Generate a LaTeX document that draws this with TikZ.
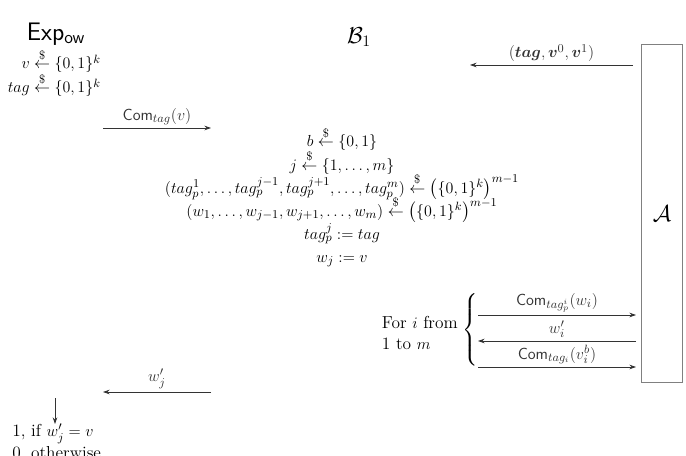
\documentclass[tikz,border=0pt]{standalone}
\usepackage{amsmath,amssymb}
\usepackage{tikz}
\usetikzlibrary{arrows.meta, positioning}

\begin{document}
\begin{tikzpicture}[
    x=0.75pt, y=-0.75pt,
    font=\fontsize{13}{16}\selectfont,
    node distance = 17.3pt and 4pt,
    txt/.style    = {inner sep=0pt},
    row/.style    = {inner sep=0pt, anchor=base},
    lbl/.style    = {above, inner sep=2pt},
    advbox/.style = {
        rectangle, draw=gray, line width=0.9pt,
        minimum width=31pt, minimum height=254pt,
        inner sep=0pt
    },
    arr/.style    = {-{Stealth[length=5pt, width=3.5pt]}, line width=0.6pt, black!80}
]
\useasboundingbox (0,0) rectangle (686,456);

%% Headers
\node[txt, font=\fontsize{19}{22}\selectfont] (exp) at (56,34) {\textsf{Exp}$_{\textsf{ow}}$};
\node[txt, font=\LARGE] (bone) at (359,37) {$\mathcal{B}_1$};

%% Adversary
\node[advbox] (adv) at (662,213.5) {\LARGE$\mathcal{A}$};

%% Challenger sampling
\node[row, anchor=base east] (sv)   at (101,69) {$v \stackrel{\$}{\leftarrow} \{0,1\}^k$};
\node[row, anchor=base east] (stag) at (101,93) {$tag \stackrel{\$}{\leftarrow} \{0,1\}^k$};

%% Reduction rows
\node[row] (rb) at (342,147) {$b \stackrel{\$}{\leftarrow} \{0,1\}$};
\node[below=of rb.base, row]  (rj)   {$j \stackrel{\$}{\leftarrow} \{1,\ldots,m\}$};
\node[below=of rj.base, row]  (rtag) {$(tag_p^1,\ldots,tag_p^{j-1},tag_p^{j+1},\ldots,tag_p^m) \stackrel{\$}{\leftarrow} \big(\{0,1\}^k\big)^{m-1}$};
\node[below=of rtag.base, row] (rw)  {$(w_1,\ldots,w_{j-1},w_{j+1},\ldots,w_m) \stackrel{\$}{\leftarrow} \big(\{0,1\}^k\big)^{m-1}$};
\node[below=of rw.base, row]  (rtj)  {$tag_p^j := tag$};
\node[below=of rtj.base, row] (rwj)  {$w_j := v$};

%% Loop
\node[align=left, anchor=east, inner sep=0pt] (fori) at (458,333) {For $i$ from\\1 to $m$};
\node[inner sep=0pt] (brc) at (471,330) {$\left\{\vcenter{\hrule height 58pt width 0pt}\right.$};

%% Arrow end points
\coordinate (la0) at (470,65);  \coordinate (ra0) at (633,65);
\coordinate (lc)  at (103,128); \coordinate (rc)  at (211,128);
\coordinate (la1) at (478,315); \coordinate (ra1) at (636,315);
\coordinate (la2) at (478,341); \coordinate (ra2) at (636,341);
\coordinate (la3) at (478,367); \coordinate (ra3) at (636,367);
\coordinate (lw)  at (103,392); \coordinate (rw2) at (211,392);
\coordinate (dtop) at (55,398);

%% Output
\node[align=left, anchor=north west, inner sep=0pt] (out) at (12,424) {1, if $w_j' = v$\\0, otherwise};

%% Arrows
\draw[arr] (ra0) -- node[lbl] {$(\boldsymbol{tag},\boldsymbol{v}^0,\boldsymbol{v}^1)$} (la0);
\draw[arr] (lc)  -- node[lbl] {$\mathsf{Com}_{tag}(v)$} (rc);
\draw[arr] (la1) -- node[lbl] {$\mathsf{Com}_{tag_p^i}(w_i)$} (ra1);
\draw[arr] (ra2) -- node[lbl] {$w_i'$} (la2);
\draw[arr] (la3) -- node[lbl] {$\mathsf{Com}_{tag_i}(v_i^b)$} (ra3);
\draw[arr] (rw2) -- node[lbl] {$w_j'$} (lw);
\draw[arr] (dtop) -- (dtop |- out.north);

\end{tikzpicture}
\end{document}
